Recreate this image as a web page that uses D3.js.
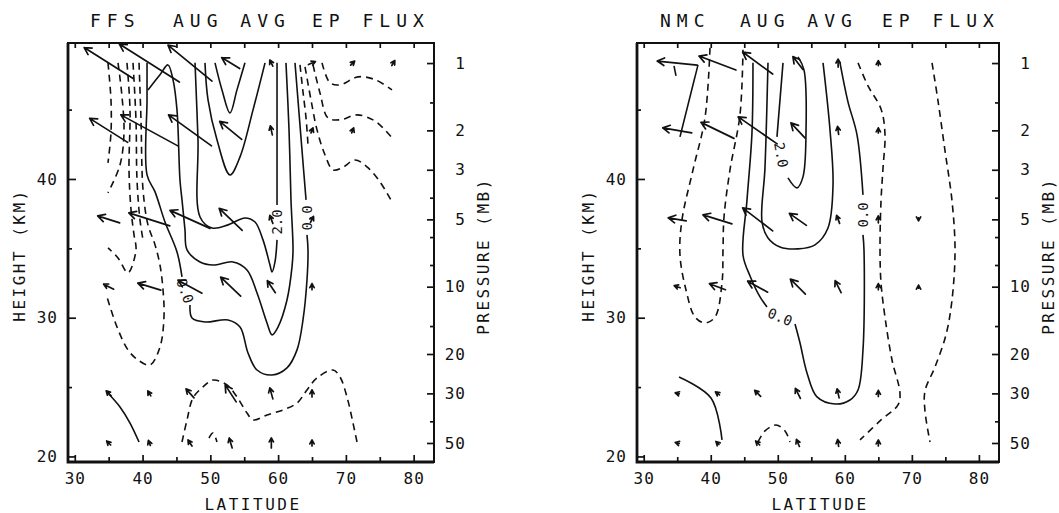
<!DOCTYPE html>
<html>
<head>
<meta charset="utf-8">
<script src="https://cdn.jsdelivr.net/npm/d3@7"></script>
<style>
  body { margin: 0; background: #fff; }
  svg text { font-family: "DejaVu Sans Mono", monospace; fill: #111; }
</style>
</head>
<body>
<div id="chart"></div>
<script>
(function () {

// grid of the EP flux vectors
var gridLats = [35, 41, 47, 53, 59, 65, 71, 77]
var gridPres = [1, 2, 5, 10, 30, 50]

// flux components, rows = gridPres, cols = gridLats (null = no arrow)
var ffsFluxY = [
  [-49, -60, -44, -18, -3, 7, 4, 3],
  [-38, -57, -43, -22, -2, 2, 2, null],
  [-22, -41, -40, -23, -3, 3, null, null],
  [-10, -23, -24, -20, -8, 0, null, null],
  [-5, -3, -8, -11, -3, 0, null, null],
  [-4, -2, -4, -3, 0, 0, null, null]
]
var ffsFluxZ = [
  [31, 38, 36, 11, 6, 3, 4, 5],
  [24, 31, 31, 18, 9, 5, 5, null],
  [7, 13, 18, 22, 8, 6, null, null],
  [5, 7, 13, 19, 12, 6, null, null],
  [5, 5, 9, 17, 11, 7, null, null],
  [4, 5, 6, 10, 10, 6, null, null]
]
var nmcFluxY = [
  [-40, -37, -30, -10, 0, 0, null, null],
  [-29, -33, -39, -14, -1, 0, null, null],
  [-18, -29, -30, -17, -3, 0, 0, null],
  [-6, -16, -20, -15, -6, 0, 0, null],
  [-4, -4, -6, -5, -2, 0, null, null],
  [-4, -3, -4, -3, -1, 0, null, null]
]
var nmcFluxZ = [
  [4, 14, 22, 13, 8, 5, null, null],
  [5, 16, 27, 15, 8, 5, null, null],
  [3, 9, 23, 12, 8, 7, -3, null],
  [2, 6, 11, 15, 12, 6, 3, null],
  [1, 3, 6, 10, 9, 6, null, null],
  [1, 3, 4, 7, 7, 6, null, null]
]

// contour lines as [latitude, height km]
var ffsSolid = [
  [[40.66,48.37],[40.66,45.70],[40.66,40.29],[41.84,39.07],[43.31,36.90],[45.08,34.74],[45.82,32.94]],
  [[47.00,30.92],[47.30,29.98],[49.21,29.69],[52.61,29.84],[54.38,29.33],[55.56,27.46],[56.89,26.23],[59.10,25.87],[61.31,26.38],[62.79,27.68],[63.67,29.84],[64.26,32.72],[64.41,34.89],[64.26,35.97]],
  [[64.12,38.49],[63.52,42.10],[62.93,45.70],[62.49,48.37]],
  [[40.80,46.42],[42.57,47.51],[43.75,48.22],[44.49,47.16],[45.08,44.98],[45.52,39.93],[45.82,38.49],[46.26,36.33],[46.56,34.89],[48.48,34.02],[50.39,33.80],[53.34,34.02],[55.41,33.44],[56.89,31.78],[58.36,29.62],[59.10,28.76],[59.98,29.33],[61.31,31.28],[62.05,33.66],[62.20,34.89],[61.90,38.49],[61.61,43.54],[61.16,48.37]],
  [[47.74,48.37],[48.18,42.82],[48.48,37.26],[50.25,36.47],[52.61,36.69],[55.11,37.19],[56.59,36.90],[57.77,35.61],[58.80,33.80],[59.10,33.30],[59.54,34.02],[59.84,35.61]],
  [[59.84,38.13],[59.84,48.37]],
  [[49.21,48.37],[49.66,45.70],[50.98,42.82],[52.90,40.29],[54.38,41.59],[56.30,44.98],[58.07,48.37]],
  [[50.69,48.37],[51.72,46.42],[52.90,44.76],[53.93,46.42],[55.11,48.37]],
  [[34.75,24.65],[36.67,23.57],[38.15,22.41],[39.48,21.04]]
]
var ffsDashed = [
  [[34.90,48.37],[35.34,45.70],[35.34,43.32],[34.90,41.16]],
  [[36.38,48.37],[36.97,45.93],[37.26,43.32],[36.67,41.01],[34.90,39.00]],
  [[37.70,48.37],[38.15,44.98],[38.00,40.65],[38.30,37.77],[38.74,35.97],[39.03,34.89],[37.85,33.23],[36.38,34.31],[34.90,35.03]],
  [[38.59,48.37],[39.03,44.26],[39.18,39.93],[39.62,37.05],[40.07,35.61]],
  [[39.48,48.37],[39.77,44.26],[40.07,39.21],[40.80,36.69],[41.84,35.25],[42.57,33.80],[43.02,32.00],[43.16,30.05],[42.57,27.89],[41.10,26.59],[39.33,26.95],[37.85,27.68],[36.23,29.33],[34.75,31.50]],
  [[63.23,48.22],[63.67,46.28],[64.12,44.40],[64.41,42.46]],
  [[63.97,48.08],[64.85,45.70],[65.74,43.54],[66.92,41.73],[68.10,40.65],[69.43,40.80],[71.34,41.37],[73.11,40.87],[75.03,39.79],[76.80,38.35]],
  [[65.15,48.22],[66.18,46.20],[67.36,44.40],[69.13,44.26],[71.64,44.62],[74.00,44.26],[75.48,43.68],[76.80,42.96]],
  [[66.48,48.37],[67.66,46.93],[69.13,46.78],[71.79,47.36],[74.30,47.16],[76.80,46.42]],
  [[45.82,21.04],[46.56,22.63],[47.44,24.21],[48.92,25.01],[50.39,25.51],[52.46,25.15],[53.93,24.29],[55.41,23.13],[56.30,22.63],[58.36,22.99],[60.72,23.35],[62.79,23.85],[64.26,24.79],[65.74,25.66],[68.10,26.23],[69.13,25.73],[70.16,24.29],[71.05,22.41],[71.64,21.04]],
  [[49.80,21.33],[50.39,21.69],[50.98,21.04]]
]
var nmcSolid = [
  [[38.10,48.22],[35.41,43.03]],
  [[34.52,48.15],[34.82,47.43]],
  [[46.30,48.37],[46.15,43.32],[45.41,38.49],[44.81,34.52],[45.86,33.01],[47.35,31.50],[48.39,30.78]],
  [[52.57,29.55],[53.32,28.18],[54.36,26.02],[55.85,24.29],[58.54,23.78],[60.77,24.07],[61.97,24.79],[62.71,27.68],[62.86,34.89],[62.71,35.97]],
  [[62.71,38.85],[61.82,43.18],[60.47,45.56],[59.28,48.37]],
  [[48.54,48.37],[48.09,40.80],[47.65,36.90],[48.54,35.75],[50.33,35.10],[53.02,34.96],[55.55,35.25],[57.49,36.47],[58.24,39.57],[57.79,43.54],[56.75,48.37]],
  [[50.78,48.37],[49.88,43.03]],
  [[51.52,40.08],[52.87,39.36],[53.76,40.15],[54.21,43.32],[53.91,47.86],[53.02,48.80]],
  [[35.27,25.73],[40.04,24.21],[41.68,21.19]]
]
var nmcDashed = [
  [[39.89,49.45],[39.14,44.40],[37.35,40.65],[35.71,37.05],[35.41,34.52],[36.31,32.00],[37.65,30.05],[39.14,29.62],[40.64,30.05],[41.68,32.51],[41.83,34.89],[41.98,37.26],[42.87,40.65],[44.36,44.62],[44.81,49.31]],
  [[61.97,48.37],[63.46,46.71],[65.40,45.05],[65.99,43.25],[65.70,40.80],[65.40,38.42],[65.25,34.89],[65.40,32.51],[65.99,30.05],[67.04,26.95],[68.23,24.57],[67.93,23.71],[65.40,22.63],[62.27,21.19]],
  [[73.01,48.37],[73.90,45.63],[74.95,42.02],[75.99,38.42],[76.44,34.89],[75.99,31.28],[75.09,28.76],[73.45,26.45],[71.96,24.72],[71.96,23.28],[72.71,21.04]],
  [[47.05,21.04],[48.09,21.84],[49.73,22.27],[51.08,21.84],[51.82,21.04]]
]

// contour labels: latitude, height, text, angle
var ffsLabels = [[59.84, 36.90, '2.0', -90], [64.26, 37.19, '0.0', -90], [46.26, 31.93, '0.0', 70]]
var nmcLabels = [[50.33, 30.05, '0.0', 22], [62.71, 37.41, '0.0', -90], [50.48, 41.73, '2.0', 80]]

// axes
var latTicks = [30, 40, 50, 60, 70, 80]
var latMinor = [35, 45, 55, 65, 75]
var heightTicks = [20, 30, 40]
var heightMinor = [25, 35, 45]
var presTicks = [1, 2, 3, 5, 10, 20, 30, 50]
var presMinor = [1.5, 4, 6, 8, 15, 40]

var H = 7
function presToZ(p) { return H * Math.log(1000 / p) }

var width = 1059, height = 513
var top = 43, bottom = 462

var svg = d3.select('#chart').append('svg')
  .attr('width', width)
  .attr('height', height)

svg.append('rect').attr('width', width).attr('height', height).attr('fill', '#fff')

var fluxScale = d3.scaleLinear().domain([0, 10]).range([0, 10])

function arrowPath(cx, cy, dx, dy) {
  var len = Math.sqrt(dx * dx + dy * dy)
  var x0 = cx - dx / 2, y0 = cy - dy / 2, x1 = cx + dx / 2, y1 = cy + dy / 2
  var h = Math.max(4.5, Math.min(8, len * 0.45))
  var a = Math.atan2(dy, dx), s = 0.5
  return 'M' + x0 + ',' + y0 + 'L' + x1 + ',' + y1 +
    'M' + (x1 - h * Math.cos(a - s)) + ',' + (y1 - h * Math.sin(a - s)) +
    'L' + x1 + ',' + y1 +
    'L' + (x1 - h * Math.cos(a + s)) + ',' + (y1 - h * Math.sin(a + s))
}

function styleAxis(g) {
  g.attr('font-family', '"DejaVu Sans Mono", monospace').attr('font-size', 16)
  g.select('.domain').remove()
  g.selectAll('line').attr('stroke', '#111').attr('stroke-width', 1.7)
}

function drawPanel(p) {
  var x = d3.scaleLinear().domain([29, 83]).range([p.left, p.right])
  var y = d3.scaleLinear().domain([19.6, 49.8]).range([bottom, top])
  var yp = d3.scaleLog()
    .domain([1000 * Math.exp(-19.6 / H), 1000 * Math.exp(-49.8 / H)])
    .range([bottom, top])

  var g = svg.append('g')

  // bottom axis
  g.append('g').attr('transform', 'translate(0,' + bottom + ')')
    .call(d3.axisBottom(x).tickValues(latTicks).tickSizeInner(-7).tickSizeOuter(0).tickPadding(11).tickFormat(d3.format('d')))
    .call(styleAxis)
    .selectAll('text').attr('letter-spacing', 1)
  g.append('g').attr('transform', 'translate(0,' + bottom + ')')
    .call(d3.axisBottom(x).tickValues(latMinor).tickSizeInner(-5).tickSizeOuter(0).tickFormat(''))
    .call(styleAxis)

  // top axis
  g.append('g').attr('transform', 'translate(0,' + top + ')')
    .call(d3.axisTop(x).tickValues(latTicks.concat(latMinor)).tickSizeInner(-5).tickSizeOuter(0).tickFormat(''))
    .call(styleAxis)

  // left axis (height)
  g.append('g').attr('transform', 'translate(' + p.left + ',0)')
    .call(d3.axisLeft(y).tickValues(heightTicks).tickSizeInner(-8).tickSizeOuter(0).tickPadding(10).tickFormat(d3.format('d')))
    .call(styleAxis)
    .selectAll('text').attr('letter-spacing', 1)
  g.append('g').attr('transform', 'translate(' + p.left + ',0)')
    .call(d3.axisLeft(y).tickValues(heightMinor).tickSizeInner(-4).tickSizeOuter(0).tickFormat(''))
    .call(styleAxis)

  // right axis (pressure)
  var ra = g.append('g').attr('transform', 'translate(' + p.right + ',0)')
    .call(d3.axisRight(yp).tickValues(presTicks).tickSizeInner(-7).tickSizeOuter(0).tickPadding(32).tickFormat(d3.format('d')))
    .call(styleAxis)
  ra.attr('text-anchor', 'end')
  ra.selectAll('text').attr('letter-spacing', 1)
  g.append('g').attr('transform', 'translate(' + p.right + ',0)')
    .call(d3.axisRight(yp).tickValues(presMinor).tickSizeInner(-4).tickSizeOuter(0).tickFormat(''))
    .call(styleAxis)

  // frame
  g.append('rect')
    .attr('x', p.left).attr('y', top)
    .attr('width', p.right - p.left).attr('height', bottom - top)
    .attr('fill', 'none').attr('stroke', '#111').attr('stroke-width', 2)
  g.append('path')
    .attr('d', 'M' + p.left + ',' + top + 'V' + bottom + 'H' + p.right)
    .attr('fill', 'none').attr('stroke', '#111').attr('stroke-width', 2.8)

  var line = d3.line()
    .x(function (d) { return x(d[0]) })
    .y(function (d) { return y(d[1]) })
    .curve(d3.curveCatmullRom.alpha(0.5))

  g.selectAll('.solid')
    .data(p.solid)
    .enter().append('path')
    .attr('class', 'solid')
    .attr('d', line)
    .attr('fill', 'none').attr('stroke', '#111').attr('stroke-width', 1.6)

  g.selectAll('.dashed')
    .data(p.dashed)
    .enter().append('path')
    .attr('class', 'dashed')
    .attr('d', line)
    .attr('fill', 'none').attr('stroke', '#111').attr('stroke-width', 1.6)
    .attr('stroke-dasharray', '7,5')

  // EP flux arrows
  var arrows = []
  gridPres.forEach(function (pr, i) {
    gridLats.forEach(function (lat, j) {
      if (p.fy[i][j] === null) return
      arrows.push({ lat: lat, z: presToZ(pr), fy: p.fy[i][j], fz: p.fz[i][j] })
    })
  })
  g.selectAll('.arrow')
    .data(arrows)
    .enter().append('path')
    .attr('class', 'arrow')
    .attr('d', function (d) {
      return arrowPath(x(d.lat), y(d.z), fluxScale(d.fy), -fluxScale(d.fz))
    })
    .attr('fill', 'none').attr('stroke', '#111').attr('stroke-width', 1.7)
    .attr('stroke-linecap', 'round').attr('stroke-linejoin', 'round')

  g.selectAll('.clabel')
    .data(p.labels)
    .enter().append('text')
    .attr('class', 'clabel')
    .attr('transform', function (d) { return 'translate(' + x(d[0]) + ',' + y(d[1]) + ') rotate(' + d[3] + ')' })
    .attr('text-anchor', 'middle')
    .attr('dy', '0.35em')
    .attr('font-size', 14)
    .text(function (d) { return d[2] })

  // titles
  p.title.forEach(function (t, i) {
    g.append('text')
      .attr('x', p.titleX[i]).attr('y', 27)
      .attr('font-size', 18)
      .attr('letter-spacing', 6)
      .text(t)
  })

  g.append('text')
    .attr('x', (p.left + p.right) / 2 + 2).attr('y', 510)
    .attr('text-anchor', 'middle')
    .attr('font-size', 16).attr('letter-spacing', 2.5)
    .text('LATITUDE')

  g.append('text')
    .attr('transform', 'translate(' + (p.left - 43) + ',255) rotate(-90)')
    .attr('text-anchor', 'middle')
    .attr('font-size', 16).attr('letter-spacing', 2.5)
    .text('HEIGHT (KM)')

  g.append('text')
    .attr('transform', 'translate(' + (p.right + 55) + ',256) rotate(-90)')
    .attr('text-anchor', 'middle')
    .attr('font-size', 16).attr('letter-spacing', 2.5)
    .text('PRESSURE (MB)')
}

drawPanel({
  left: 68, right: 434,
  title: ['FFS', 'AUG AVG', 'EP FLUX'], titleX: [90, 173, 312],
  solid: ffsSolid, dashed: ffsDashed, labels: ffsLabels,
  fy: ffsFluxY, fz: ffsFluxZ
})

drawPanel({
  left: 637, right: 999,
  title: ['NMC', 'AUG AVG', 'EP FLUX'], titleX: [660, 740, 882],
  solid: nmcSolid, dashed: nmcDashed, labels: nmcLabels,
  fy: nmcFluxY, fz: nmcFluxZ
})

})()
</script>
</body>
</html>
